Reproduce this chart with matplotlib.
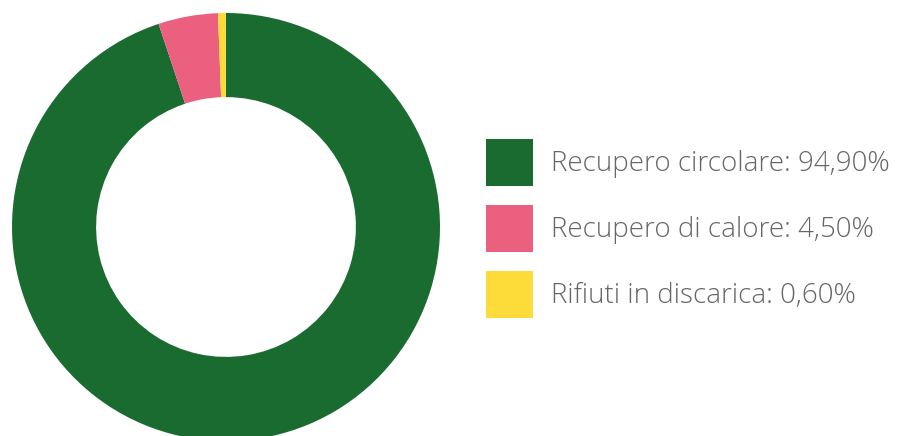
import matplotlib.pyplot as plt

labels = ['Recupero circolare: 94,90%', 'Recupero di calore: 4,50%', 'Rifiuti in discarica: 0,60%']
values = [94.9, 4.5, 0.6]
colors = ['#1a6b30', '#ec607f', '#fddc3a']

W, H = 912, 436
fig = plt.figure(figsize=(W / 100, H / 100), dpi=100)

# donut: centre (226, 227) px from top, outer radius 214 px
cx, cy, r = 226, 227, 214
ax = fig.add_axes([(cx - r) / W, (H - cy - r) / H, 2 * r / W, 2 * r / H])
wedges, _ = ax.pie(values, colors=colors, startangle=90, counterclock=False,
                   radius=1, wedgeprops=dict(width=0.393, linewidth=0))
ax.set_xlim(-1, 1)
ax.set_ylim(-1, 1)
ax.set_aspect('equal')
ax.axis('off')

fs = 20
fspx = fs * 100 / 72
# legend patch height = fs*(0.65*hh + 0.245); want 47 px squares
hh = (47 / fspx - 0.245) / 0.65
leg = fig.legend(wedges, labels, loc='upper left',
                 bbox_to_anchor=(486 / W, 1 - 139 / H),
                 frameon=False, borderpad=0, borderaxespad=0,
                 handlelength=47 / fspx, handleheight=hh,
                 labelspacing=19 / fspx, handletextpad=18 / fspx,
                 prop={'family': 'Open Sans', 'weight': 'light', 'size': fs})
for t in leg.get_texts():
    t.set_color('#666666')

fig.savefig('out.png', dpi=100)
